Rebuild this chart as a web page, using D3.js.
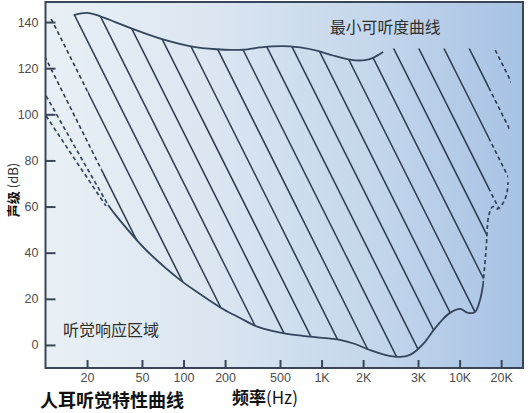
<!DOCTYPE html>
<html>
<head>
<meta charset="utf-8">
<script src="https://cdn.jsdelivr.net/npm/d3@7"></script>
<style>
  html, body { margin: 0; padding: 0; background: #ffffff; }
  svg { display: block; }
</style>
</head>
<body>
<svg id="chart" width="530" height="413"></svg>
<script>
// Upper boundary of the hearing region (threshold of pain), Hz / dB
const upperFreq = [16, 20, 25, 32, 41, 71, 125, 200, 270, 360, 445, 590, 700, 940, 1210, 1690, 2060, 2360, 2790];
const upperDb   = [143, 144, 142.5, 140, 137.5, 132.5, 129, 128, 128, 129, 129.5, 129.5, 129, 127.5, 125.5, 123.5, 123.5, 124.5, 127];

// Minimum audible curve (threshold of hearing), Hz / dB
const lowerFreq = [28.4, 33, 52.6, 94.3, 131.6, 193, 257, 346, 562, 867, 1360, 1750, 2240, 2880, 3700, 4370, 4910, 5620, 6420, 7460, 8520, 10070, 11510, 12940, 14060, 14780];
const lowerDb   = [60.7, 55.5, 41.6, 28.2, 22.1, 15.6, 11.7, 7.8, 4.8, 3.5, 2.2, 0.4, -2.2, -4.3, -5.2, -4.3, -2.2, 1.3, 6.1, 10.8, 13.9, 15.6, 13.9, 14.3, 19.5, 26.0];

// Extrapolated (dashed) parts of the threshold curve
const highExtFreq = [14780, 15540, 16330, 17460, 18980, 20630, 22040, 22410];
const highExtDb   = [26, 41, 56.5, 60, 59, 61.5, 66, 70.5];
const lowExtAFreq = [10.1, 16.9, 28.4];
const lowExtADb   = [108, 84.3, 60.7];
const lowExtBFreq = [10.1, 16.6, 27.4];
const lowExtBDb   = [99.3, 79.8, 60.3];

// Level at which the hatching stops above the high-frequency end
const hatchTopDb = 128.5;

// Axis ticks
const yTicks = [0, 20, 40, 60, 80, 100, 120, 140];
const xTicks = [20, 50, 100, 200, 500, 1000, 2000, 5000, 10000, 20000];
const xTickLabels = ["20", "50", "100", "200", "500", "1K", "2K", "3K", "10K", "20K"];

const svg = d3.select("#chart");
const L = 45.5, R = 523, T = 2, B = 368;

const x = d3.scaleLog().domain([10, 28800]).range([L, R]);
const y = d3.scaleLinear().domain([-10, 148.7]).range([B, T]);

const zip = (fs, ds) => fs.map((f, i) => [f, ds[i]]);
const upper = zip(upperFreq, upperDb);
const lower = zip(lowerFreq, lowerDb);
const highExt = zip(highExtFreq, highExtDb);
const lowExtA = zip(lowExtAFreq, lowExtADb);
const lowExtB = zip(lowExtBFreq, lowExtBDb);

const smooth = d3.line().x(d => x(d[0])).y(d => y(d[1])).curve(d3.curveCatmullRom.alpha(0.5));
const straight = d3.line().x(d => x(d[0])).y(d => y(d[1]));
const cont = s => s.replace(/^M/, "L");

// ---- background ----
const defs = svg.append("defs");
const grad = defs.append("linearGradient").attr("id", "bg").attr("x1", "0").attr("x2", "1").attr("y1", "0").attr("y2", "0");
grad.append("stop").attr("offset", "0%").attr("stop-color", "#e9f0f5");
grad.append("stop").attr("offset", "35%").attr("stop-color", "#dbe6f1");
grad.append("stop").attr("offset", "70%").attr("stop-color", "#c3d6eb");
grad.append("stop").attr("offset", "100%").attr("stop-color", "#a7c2e4");
svg.append("rect").attr("x", L).attr("y", T).attr("width", R - L).attr("height", B - T).attr("fill", "url(#bg)");

// ---- hatched regions ----
const upperEnd = upper[upper.length - 1];
const rightEdgeF = 24000;
const solidRightF = highExt[2][0];

// full region, including extrapolated ends
const fullPath =
  `M${L},${y(141)}` + cont(smooth(upper)) +
  `L${x(upperEnd[0])},${y(hatchTopDb)}L${x(rightEdgeF)},${y(hatchTopDb)}` +
  `L${x(highExt[highExt.length - 1][0])},${y(highExt[highExt.length - 1][1])}` +
  cont(smooth(highExt.slice().reverse())) +
  cont(smooth(lower.slice().reverse())) +
  cont(straight(lowExtA.slice().reverse())) +
  `L${L},${y(141)}Z`;

// measured region
const solidPath =
  smooth(upper) +
  `L${x(upperEnd[0])},${y(hatchTopDb)}L${x(solidRightF)},${y(hatchTopDb)}` +
  cont(smooth(highExt.slice(0, 3).reverse())) +
  cont(smooth(lower.slice().reverse())) + "Z";

defs.append("clipPath").attr("id", "clipSolid").append("path").attr("d", solidPath);
defs.append("clipPath").attr("id", "clipDash").append("path")
  .attr("d", fullPath + solidPath).attr("clip-rule", "evenodd");

// parallel hatch lines, slope 2:1 downward to the right
const hatchStep = 25.2, hatchStart = 67 - hatchStep * 5;
const hatch = d3.range(0, 24).map(k => hatchStart + k * hatchStep);
const hatchColor = "#2d3a4d";

svg.append("g").attr("clip-path", "url(#clipSolid)")
  .selectAll("line").data(hatch).join("line")
  .attr("x1", d => d).attr("y1", 0).attr("x2", d => d + 200).attr("y2", 400)
  .attr("stroke", hatchColor).attr("stroke-width", 1.5);

svg.append("g").attr("clip-path", "url(#clipDash)")
  .selectAll("line").data(hatch).join("line")
  .attr("x1", d => d).attr("y1", 0).attr("x2", d => d + 200).attr("y2", 400)
  .attr("stroke", hatchColor).attr("stroke-width", 1.6).attr("stroke-dasharray", "4,3");

// ---- curves ----
const curveColor = "#34455c";
svg.append("path").attr("d", smooth(upper)).attr("fill", "none").attr("stroke", curveColor).attr("stroke-width", 1.8);
svg.append("path").attr("d", smooth(lower)).attr("fill", "none").attr("stroke", curveColor).attr("stroke-width", 1.8);
svg.append("path").attr("d", smooth(highExt)).attr("fill", "none").attr("stroke", curveColor).attr("stroke-width", 1.7).attr("stroke-dasharray", "4,3");
svg.append("path").attr("d", straight(lowExtA)).attr("fill", "none").attr("stroke", curveColor).attr("stroke-width", 1.7).attr("stroke-dasharray", "4,3");
svg.append("path").attr("d", straight(lowExtB)).attr("fill", "none").attr("stroke", curveColor).attr("stroke-width", 1.7).attr("stroke-dasharray", "4,3");

// ---- axes ----
const axisColor = "#3a4657";
const yAxis = svg.append("g").attr("transform", `translate(${L},0)`)
  .call(d3.axisLeft(y).tickValues(yTicks).tickSize(-10).tickPadding(7));
const xAxis = svg.append("g").attr("transform", `translate(0,${B})`)
  .call(d3.axisBottom(x).tickValues(xTicks).tickFormat((d, i) => xTickLabels[i]).tickSize(-8).tickPadding(5));
[yAxis, xAxis].forEach(g => {
  g.select(".domain").remove();
  g.selectAll(".tick line").attr("stroke", axisColor).attr("stroke-width", 2);
  g.selectAll(".tick text").attr("fill", "#4d4d4d")
    .style("font-family", "'Liberation Sans', Arial, sans-serif").style("font-size", "12.5px");
});

// frame
svg.append("rect").attr("x", L).attr("y", T).attr("width", R - L).attr("height", B - T)
  .attr("fill", "none").attr("stroke", axisColor).attr("stroke-width", 2);

// ---- text ----
const cjk = "'Noto Sans CJK SC', 'Noto Sans', sans-serif";
svg.append("text").attr("x", 330).attr("y", 33).text("最小可听度曲线")
  .style("font-family", cjk).style("font-size", "15.8px").attr("fill", "#2e2e2e");
svg.append("text").attr("x", 63).attr("y", 336).text("听觉响应区域")
  .style("font-family", cjk).style("font-size", "16px").attr("fill", "#2e2e2e");
const yt = svg.append("text").attr("transform", "translate(18,190) rotate(-90)").attr("text-anchor", "middle")
  .style("font-family", cjk).style("font-size", "13px").attr("fill", "#333");
yt.append("tspan").text("声级").style("font-weight", "bold").attr("fill", "#111");
yt.append("tspan").text(" (dB)");
svg.append("text").attr("x", 40).attr("y", 407).text("人耳听觉特性曲线")
  .style("font-family", cjk).style("font-size", "18px").style("font-weight", "bold").attr("fill", "#111");
const xt = svg.append("text").attr("x", 232).attr("y", 404)
  .style("font-family", cjk).style("font-size", "17px").attr("fill", "#111");
xt.append("tspan").text("频率").style("font-weight", "bold");
xt.append("tspan").text("(Hz)");
</script>
</body>
</html>
